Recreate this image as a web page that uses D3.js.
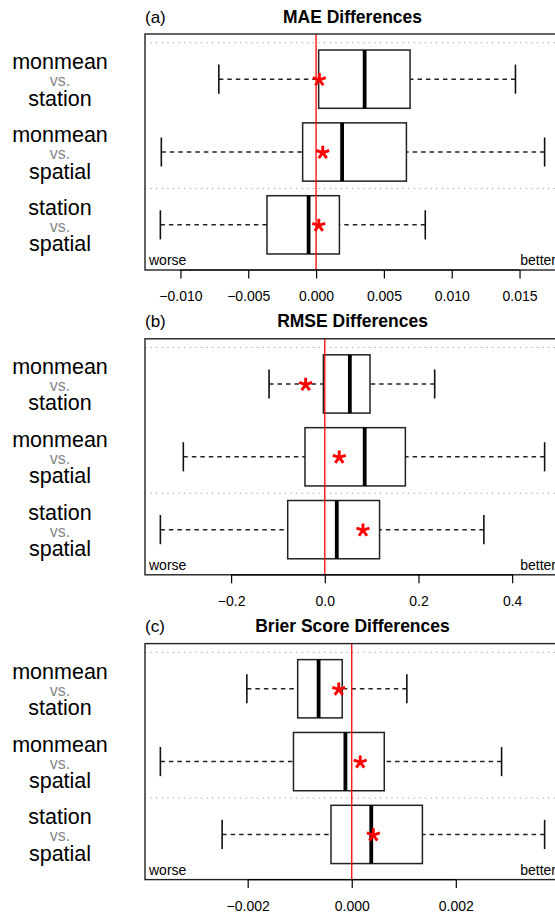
<!DOCTYPE html>
<html>
<head>
<meta charset="utf-8">
<script src="https://cdn.jsdelivr.net/npm/d3@7"></script>
<style>
	body {margin: 0; background: #fff;}
	svg {display: block; font-family: "Liberation Sans", Arial, Helvetica, sans-serif;}
</style>
</head>
<body>
<div id="chart"></div>
<script>
//row labels, top line and bottom line
const rowFirst = ['monmean', 'monmean', 'station'];
const rowSecond = ['station', 'spatial', 'spatial'];
const panelTags = ['(a)', '(b)', '(c)'];
const panelTitles = ['MAE Differences', 'RMSE Differences', 'Brier Score Differences'];

//box stats per row: lower whisker, lower hinge, median, upper hinge, upper whisker
const maeStats = [
	[-0.00717, 0.00019, 0.00358, 0.00693, 0.01470],
	[-0.01141, -0.00099, 0.00192, 0.00666, 0.01685],
	[-0.01148, -0.00362, -0.00055, 0.00172, 0.00805]
];
const maeMeans = [0.00024, 0.00049, 0.00020];

const rmseStats = [
	[-0.119, -0.003, 0.0535, 0.0965, 0.2346],
	[-0.302, -0.0423, 0.0852, 0.172, 0.4693],
	[-0.351, -0.0792, 0.0256, 0.1169, 0.3396]
];
const rmseMeans = [-0.0408, 0.0309, 0.0815];

const brierStats = [
	[-0.002016, -0.001039, -0.000637, -0.000183, 0.001059],
	[-0.003678, -0.00112, -0.000122, 0.000625, 0.00288],
	[-0.002491, -0.000399, 0.000375, 0.001358, 0.003707]
];
const brierMeans = [-0.00025, 0.000163, 0.000415];

const maeTicks = [-0.010, -0.005, 0, 0.005, 0.010, 0.015];
const rmseTicks = [-0.2, 0, 0.2, 0.4];
const brierTicks = [-0.002, 0, 0.002];
const tickFormats = ['.3f', '.1f', '.3f'];

const panels = [
	{stats: maeStats, means: maeMeans, ticks: maeTicks},
	{stats: rmseStats, means: rmseMeans, ticks: rmseTicks},
	{stats: brierStats, means: brierMeans, ticks: brierTicks}
];

const W = 555, H = 917;
const left = 145, right = 560;
const panelTop = 34, panelH = 236, panelStep = 304.8;
//box positions like R boxplot: at = 3,2,1 from top
const rowAt = [3, 2, 1];
const sepAt = [3.5, 1.5];
const boxwex = 0.8;

//5 armed asterisk like pch="*"
const asterisk = {
	draw: function (context, size) {
		let r = Math.sqrt(size) / 2;
		for (let k = 0; k < 5; k++) {
			let a = -Math.PI / 2 + k * 2 * Math.PI / 5;
			context.moveTo(0, 0);
			context.lineTo(r * Math.cos(a), r * Math.sin(a));
		}
	}
};

const svg = d3.select('#chart').append('svg')
	.attr('width', W)
	.attr('height', H);

panels.forEach((p, i) => {
	let g = svg.append('g').attr('transform', `translate(0,${panelTop + i * panelStep})`);

	//4% padding like xaxs="r"
	let ext = d3.extent(p.stats.flat().concat(p.means));
	let pad = (ext[1] - ext[0]) * 0.04;
	let x = d3.scaleLinear().domain([ext[0] - pad, ext[1] + pad]).range([left, right]);
	let y = d3.scaleLinear().domain([0.5 - 0.12, 3.5 + 0.12]).range([panelH, 0]);
	let half = y(0) - y(boxwex / 2);

	//dotted separators
	g.selectAll('.sep').data(sepAt).enter().append('line')
		.attr('x1', left).attr('x2', right)
		.attr('y1', d => y(d)).attr('y2', d => y(d))
		.attr('stroke', '#888')
		.attr('stroke-width', 1)
		.attr('stroke-dasharray', '1,4.6');

	let rows = g.selectAll('.row').data(p.stats).enter().append('g');
	//whiskers drawn from the end to the hinge
	rows.append('line')
		.attr('x1', d => x(d[0])).attr('x2', d => x(d[1]))
		.attr('y1', (d, j) => y(rowAt[j])).attr('y2', (d, j) => y(rowAt[j]))
		.attr('stroke', '#222').attr('stroke-width', 1.5)
		.attr('stroke-dasharray', '4.5,4');
	rows.append('line')
		.attr('x1', d => x(d[4])).attr('x2', d => x(d[3]))
		.attr('y1', (d, j) => y(rowAt[j])).attr('y2', (d, j) => y(rowAt[j]))
		.attr('stroke', '#222').attr('stroke-width', 1.5)
		.attr('stroke-dasharray', '4.5,4');
	//staples
	[0, 4].forEach(k => {
		rows.append('line')
			.attr('x1', d => x(d[k])).attr('x2', d => x(d[k]))
			.attr('y1', (d, j) => y(rowAt[j] + boxwex / 4))
			.attr('y2', (d, j) => y(rowAt[j] - boxwex / 4))
			.attr('stroke', '#111').attr('stroke-width', 1.6);
	});
	//boxes
	rows.append('rect')
		.attr('x', d => x(d[1]))
		.attr('width', d => x(d[3]) - x(d[1]))
		.attr('y', (d, j) => y(rowAt[j]) - half)
		.attr('height', half * 2)
		.attr('fill', '#fff')
		.attr('stroke', '#222').attr('stroke-width', 1.5);
	//medians
	rows.append('line')
		.attr('x1', d => x(d[2])).attr('x2', d => x(d[2]))
		.attr('y1', (d, j) => y(rowAt[j]) - half)
		.attr('y2', (d, j) => y(rowAt[j]) + half)
		.attr('stroke', '#000').attr('stroke-width', 3.8);

	//zero line
	g.append('line')
		.attr('x1', x(0)).attr('x2', x(0))
		.attr('y1', 0).attr('y2', panelH)
		.attr('stroke', '#ff0000').attr('stroke-width', 1.3);

	//means
	g.selectAll('.mean').data(p.means).enter().append('path')
		.attr('d', d3.symbol().type(asterisk).size(185))
		.attr('transform', (d, j) => `translate(${x(d)},${y(rowAt[j]) + 0.6})`)
		.attr('fill', 'none')
		.attr('stroke', '#ff0000')
		.attr('stroke-width', 2.9);

	//frame
	g.append('rect')
		.attr('x', left).attr('y', 0)
		.attr('width', right - left).attr('height', panelH)
		.attr('fill', 'none')
		.attr('stroke', '#222').attr('stroke-width', 1.4);

	g.append('text').attr('x', left + 4).attr('y', panelH - 5)
		.attr('font-size', 14).text('worse');
	g.append('text').attr('x', right - 4).attr('y', panelH - 5)
		.attr('font-size', 14).attr('text-anchor', 'end').text('better');

	//axis
	let axis = g.append('g')
		.attr('transform', `translate(0,${panelH})`)
		.call(d3.axisBottom(x)
			.tickValues(p.ticks)
			.tickSize(8.5)
			.tickPadding(13)
			.tickFormat(d3.format(tickFormats[i])));
	axis.select('.domain').remove();
	axis.selectAll('.tick line').attr('stroke', '#000').attr('stroke-width', 1.2);
	axis.selectAll('.tick text')
		.attr('font-size', 14)
		.attr('font-family', '"Liberation Sans", Arial, sans-serif')
		.attr('fill', '#000');
	axis.append('line')
		.attr('x1', x(p.ticks[0])).attr('x2', x(p.ticks[p.ticks.length - 1]))
		.attr('stroke', '#000').attr('stroke-width', 1.2);

	//title
	g.append('text')
		.attr('x', (left + right) / 2).attr('y', -11.5)
		.attr('text-anchor', 'middle')
		.attr('font-size', 17.5).attr('font-weight', 'bold')
		.text(panelTitles[i]);
	g.append('text')
		.attr('x', left).attr('y', -11.5)
		.attr('font-size', 17)
		.text(panelTags[i]);

	//row labels
	let labels = g.selectAll('.lab').data(rowFirst).enter().append('g')
		.attr('transform', (d, j) => `translate(60,${y(rowAt[j])})`)
		.attr('text-anchor', 'middle');
	labels.append('text').attr('y', -10).attr('font-size', 21.5).text(d => d);
	labels.append('text').attr('y', 7).attr('font-size', 16).attr('fill', '#888').text('vs.');
	labels.append('text').attr('y', 26.5).attr('font-size', 21.5).text((d, j) => rowSecond[j]);
});
</script>
</body>
</html>
